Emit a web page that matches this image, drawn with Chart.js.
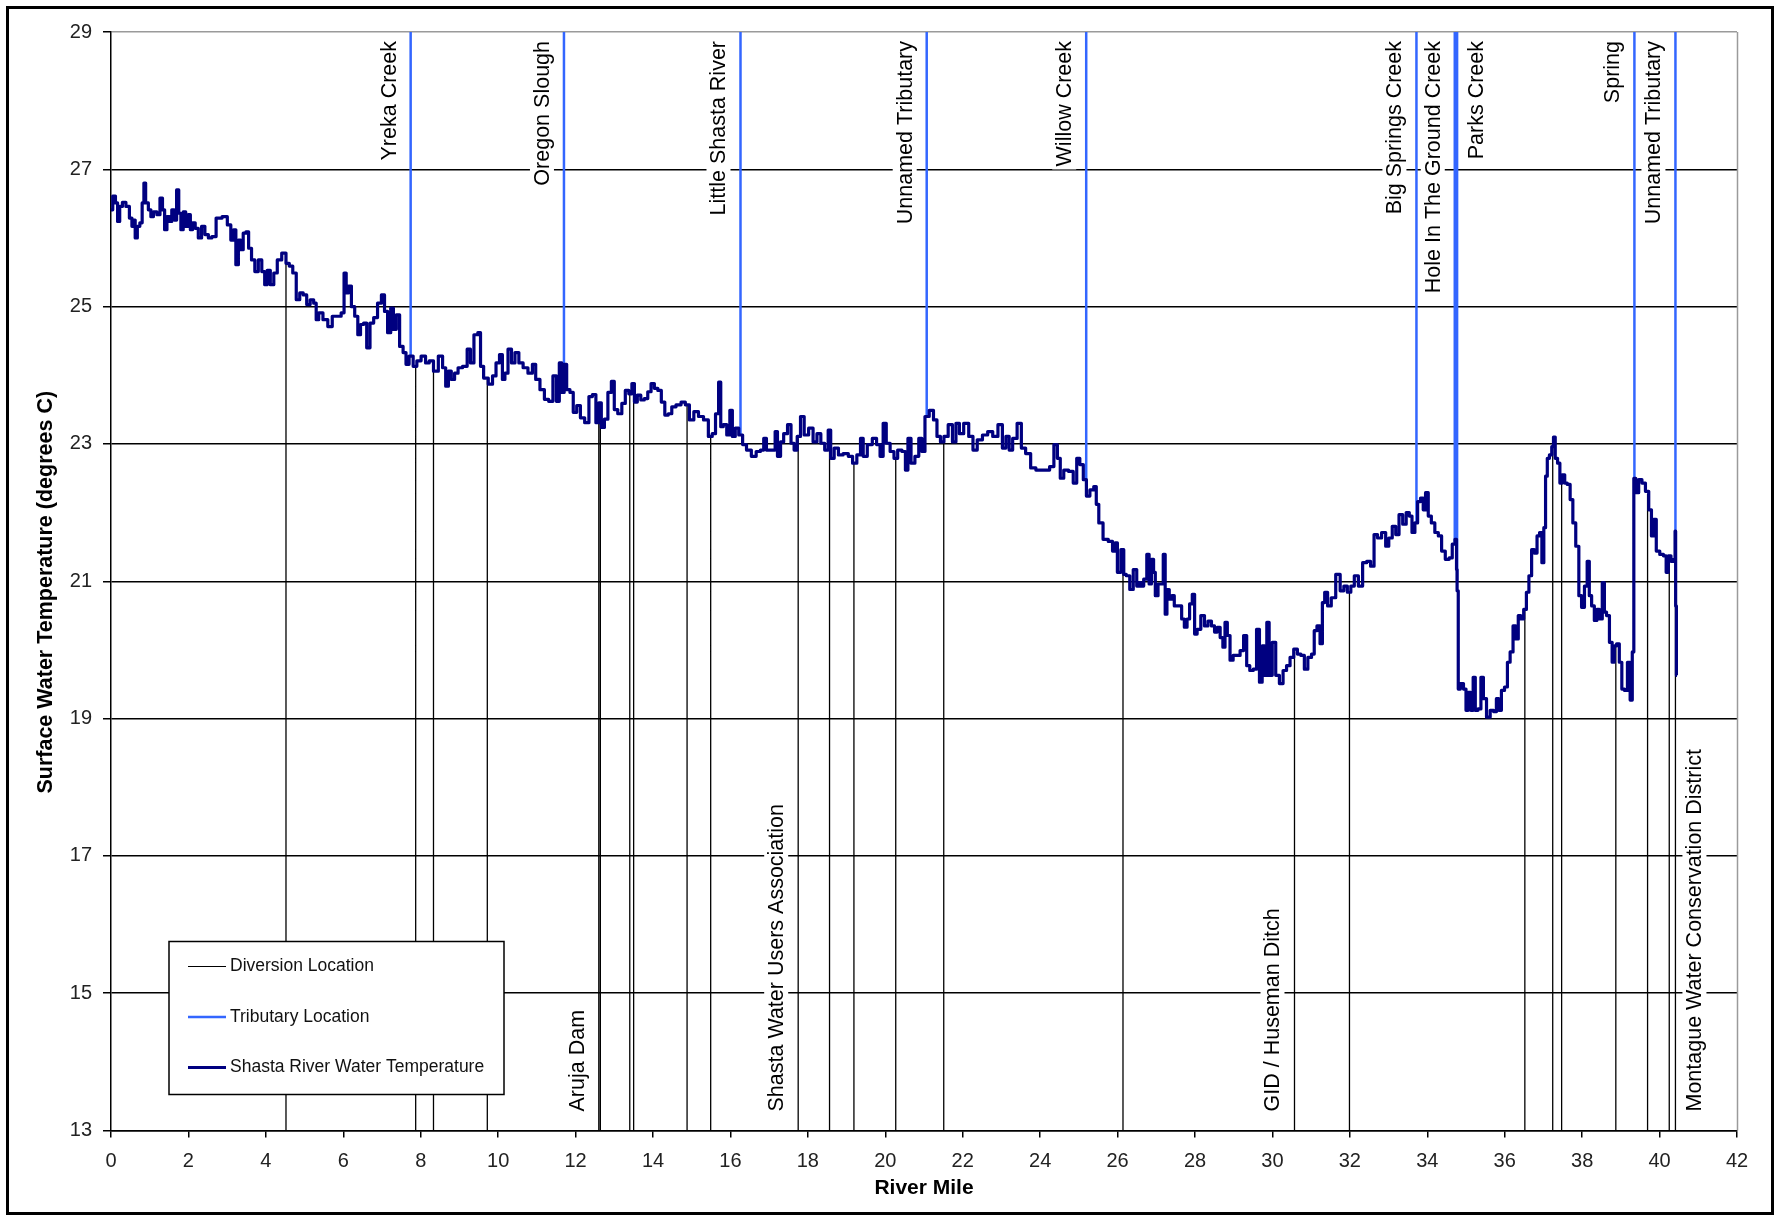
<!DOCTYPE html>
<html lang="en">
<head>
<meta charset="UTF-8">
<title>Shasta River Water Temperature</title>
<script src="https://cdn.jsdelivr.net/npm/chart.js"></script>
<style>
    html, body { margin: 0; padding: 0; background: #fff; }
    canvas { display: block; }
</style>
</head>
<body>
<canvas id="tempChart" width="1774" height="1215"></canvas>
<script>
// river mile / surface water temperature
const riverMile = [
    0.00,0.09,0.14,0.20,0.25,0.34,0.43,0.52,0.56,0.60,
    0.65,0.71,0.78,0.83,0.87,0.92,1.01,1.05,1.14,1.23,
    1.30,1.36,1.41,1.48,1.54,1.60,1.67,1.72,1.78,1.83,
    1.90,1.96,2.03,2.07,2.14,2.21,2.30,2.38,2.47,2.56,
    2.65,2.78,2.96,3.05,3.14,3.19,3.26,3.32,3.38,3.45,
    3.52,3.59,3.67,3.76,3.85,3.94,4.00,4.07,4.16,4.25,
    4.34,4.48,4.56,4.65,4.74,4.83,4.92,5.01,5.10,5.19,
    5.28,5.32,5.41,5.54,5.66,5.77,5.90,5.99,6.05,6.10,
    6.17,6.25,6.34,6.41,6.48,6.57,6.64,6.74,6.83,6.94,
    7.03,7.10,7.19,7.26,7.33,7.41,7.50,7.59,7.65,7.75,
    7.86,7.94,8.08,8.17,8.27,8.39,8.52,8.61,8.68,8.75,
    8.83,8.92,9.01,9.15,9.25,9.32,9.43,9.52,9.57,9.68,
    9.81,9.90,9.99,10.08,10.14,10.21,10.30,10.39,10.48,10.59,
    10.70,10.84,10.93,11.01,11.15,11.24,11.37,11.46,11.55,11.61,
    11.68,11.73,11.81,11.90,11.98,12.08,12.17,12.30,12.39,12.48,
    12.57,12.63,12.70,12.79,12.88,12.97,13.03,
    13.15,13.24,13.33,13.42,13.49,13.55,13.64,13.73,13.82,13.91,
    13.99,14.08,14.17,14.26,14.35,14.44,14.53,14.66,14.79,14.88,
    15.00,15.11,15.24,15.37,15.49,15.57,15.66,15.73,15.77,15.86,
    15.95,16.02,16.08,16.17,16.26,16.37,16.46,16.62,16.71,16.84,
    16.88,16.98,17.14,17.17,17.26,17.33,17.42,17.53,17.60,17.69,
    17.76,17.86,17.95,18.09,18.18,18.29,18.38,18.49,18.56,18.62,
    18.74,18.84,18.98,19.11,19.20,19.33,19.39,19.47,19.60,19.73,
    19.82,19.91,19.98,20.07,20.18,20.27,20.37,20.49,20.55,20.62,
    20.71,20.82,20.91,20.98,21.07,21.20,21.29,21.38,21.47,21.56,
    21.69,21.78,21.87,21.96,22.09,22.22,22.31,22.44,22.58,22.71,
    22.84,22.98,23.07,23.16,23.24,23.34,23.47,23.56,23.69,23.82,
    23.96,24.18,24.31,24.40,24.49,24.55,24.67,24.80,24.91,24.98,
    25.07,25.16,25.23,25.34,25.43,25.47,25.56,25.69,25.83,25.91,
    25.96,26.03,26.14,26.18,26.27,26.36,26.45,26.54,
    26.58,26.63,26.72,26.79,26.84,26.91,26.95,27.00,27.09,27.15,
    27.21,27.25,27.30,27.37,27.43,27.50,27.62,27.69,27.76,27.83,
    27.89,27.97,28.01,28.10,28.20,28.29,28.38,28.47,28.54,28.61,
    28.69,28.75,28.80,28.87,28.94,29.03,29.12,29.21,29.30,29.37,
    29.46,29.55,29.63,29.70,29.77,29.83,29.88,29.95,30.04,30.13,
    30.23,30.32,30.41,30.50,30.60,30.69,30.78,30.87,30.96,31.06,
    31.10,31.20,31.26,31.32,31.38,31.47,31.57,31.70,31.80,31.89,
    31.98,32.07,32.16,32.28,32.38,32.49,32.58,32.67,32.76,32.88,
    32.97,33.04,33.15,33.22,33.32,33.41,33.50,33.57,33.64,33.72,
    33.78,33.87,33.92,33.99,34.06,34.15,34.24,34.33,34.41,34.52,
    34.61,34.68,34.75,34.76,34.78,34.82,34.89,34.98,35.02,35.09,
    35.16,35.21,35.27,35.35,35.42,35.48,35.58,35.67,35.76,35.81,
    35.88,35.95,36.04,36.10,36.18,36.25,36.32,36.38,36.45,36.53,
    36.59,36.66,36.73,36.80,36.87,36.93,36.99,37.03,37.08,37.12,
    37.19,37.24,37.28,37.33,37.40,37.45,37.52,37.58,37.65,37.73,
    37.79,37.88,37.95,38.02,38.10,38.16,38.21,38.28,38.35,38.41,
    38.48,38.56,38.59,38.67,38.74,38.81,38.85,38.93,38.99,39.06,
    39.13,39.21,39.27,39.32,39.35,39.42,39.50,39.59,39.68,39.76,
    39.82,39.87,39.96,40.05,40.15,40.19,40.26,40.33,40.39,40.41,
    40.42,40.45
];
const waterTemp = [
    26.41,26.61,26.51,26.24,26.46,26.52,26.46,26.29,26.17,26.26,
    26.00,26.17,26.22,26.51,26.80,26.51,26.41,26.31,26.38,26.34,
    26.58,26.41,26.12,26.31,26.24,26.41,26.26,26.70,26.36,26.12,
    26.38,26.17,26.34,26.12,26.22,26.14,26.00,26.17,26.05,26.00,
    26.02,26.29,26.31,26.19,25.97,26.12,25.61,25.97,25.83,26.07,
    26.09,25.85,25.68,25.51,25.68,25.51,25.32,25.53,25.32,25.49,
    25.68,25.78,25.63,25.59,25.49,25.10,25.20,25.17,25.03,25.10,
    25.05,24.81,24.91,24.81,24.71,24.86,24.86,24.91,25.49,25.20,
    25.30,25.00,24.86,24.59,24.74,24.76,24.40,24.76,24.84,25.05,
    25.17,24.93,24.62,24.98,24.67,24.88,24.42,24.33,24.16,24.28,
    24.13,24.21,24.28,24.18,24.21,24.06,24.28,24.11,23.84,24.06,
    23.94,24.03,24.11,24.13,24.38,24.18,24.59,24.62,24.13,23.96,
    23.87,23.99,24.18,24.30,23.94,24.03,24.38,24.18,24.33,24.18,
    24.11,24.03,24.16,23.94,23.79,23.65,23.62,23.99,23.62,24.18,
    23.75,24.16,23.79,23.75,23.46,23.56,23.38,23.31,23.69,23.72,
    23.31,23.60,23.24,23.36,23.75,23.91,23.50,
    23.44,23.59,23.78,23.73,23.88,23.61,23.71,23.64,23.66,23.76,
    23.88,23.81,23.78,23.61,23.42,23.44,23.54,23.57,23.61,23.57,
    23.35,23.47,23.40,23.35,23.11,23.15,23.44,23.90,23.25,23.28,
    23.13,23.49,23.11,23.23,23.13,22.99,22.91,22.82,22.89,22.91,
    23.08,22.91,22.91,23.18,22.82,23.03,23.15,23.28,23.01,22.91,
    23.11,23.40,23.13,23.23,23.03,23.15,23.01,22.91,23.20,22.79,
    22.94,22.84,22.86,22.82,22.72,22.84,23.08,22.82,22.99,23.08,
    22.99,22.82,23.30,23.01,22.89,22.79,22.91,22.89,22.62,23.08,
    22.72,22.82,23.08,22.89,23.40,23.49,23.35,23.11,23.03,23.11,
    23.28,23.03,23.30,23.15,23.30,23.11,22.91,23.06,23.13,23.18,
    23.11,23.28,22.94,23.11,22.91,23.08,23.30,22.94,22.86,22.65,
    22.62,22.62,22.67,22.99,22.79,22.50,22.62,22.60,22.43,22.79,
    22.70,22.48,22.24,22.33,22.38,22.12,21.85,21.61,21.58,21.44,
    21.56,21.13,21.46,21.10,21.08,20.88,21.17,20.93,
    20.98,20.93,21.03,21.39,20.96,21.32,21.13,20.79,20.96,20.96,
    21.39,20.52,20.88,20.74,20.79,20.64,20.64,20.45,20.33,20.45,
    20.67,20.81,20.23,20.30,20.50,20.35,20.42,20.35,20.26,20.33,
    20.18,20.04,20.40,20.21,19.85,19.92,19.92,19.99,20.21,19.77,
    19.70,19.72,20.30,19.53,20.06,19.63,20.40,19.63,20.11,19.63,
    19.51,19.70,19.77,19.89,20.01,19.94,19.92,19.72,19.89,19.94,
    20.28,20.35,20.09,20.69,20.84,20.64,20.76,21.10,20.86,20.93,
    20.84,20.93,21.08,20.93,21.27,21.29,21.22,21.68,21.63,21.71,
    21.51,21.63,21.80,21.68,21.97,21.83,22.00,21.95,21.71,21.85,
    22.16,22.21,22.04,22.29,21.95,21.85,21.71,21.66,21.44,21.32,
    21.34,21.54,21.61,21.17,20.86,19.43,19.51,19.43,19.12,19.38,
    19.12,19.60,19.12,19.14,19.60,19.29,19.02,19.12,19.10,19.29,
    19.12,19.41,19.46,19.82,19.97,20.35,20.16,20.50,20.45,20.59,
    20.84,21.08,21.46,21.41,21.66,21.71,21.27,21.78,22.53,22.79,
    22.84,22.96,23.10,22.79,22.72,22.43,22.55,22.43,22.41,22.19,
    21.85,21.51,20.79,20.62,20.93,21.29,20.79,20.64,20.43,20.59,
    20.45,20.98,20.55,20.50,20.11,19.82,20.06,20.09,19.82,19.43,
    19.41,19.82,19.27,19.97,22.50,22.29,22.48,22.43,22.31,22.04,
    21.66,21.90,21.44,21.39,21.37,21.13,21.37,21.29,21.32,21.73,
    20.64,19.63
];

const tributaryNames = ['Yreka Creek', 'Oregon Slough', 'Little Shasta River', 'Unnamed Tributary', 'Willow Creek',
    'Big Springs Creek', 'Hole In The Ground Creek', 'Parks Creek', 'Spring', 'Unnamed Tributary'];
const tributaryMiles = [7.74, 11.70, 16.26, 21.07, 25.19, 33.72, 34.71, 34.77, 39.35, 40.41];

const diversionMiles = [4.52, 7.87, 8.33, 9.72, 12.60, 12.64, 13.40, 13.50, 14.88, 15.49, 17.75, 18.56, 19.19,
    20.27, 21.51, 26.14, 30.57, 31.99, 36.52, 37.24, 37.47, 38.87, 39.69, 40.25, 40.41];
const diversionLabelNames = ['Aruja Dam', 'Shasta Water Users Association', 'GID / Huseman Ditch',
    'Montague Water Conservation District'];
const diversionLabelMiles = [12.62, 17.75, 30.57, 40.41];

const legendLabels = ['Diversion Location', 'Tributary Location', 'Shasta River Water Temperature'];
const yTitle = 'Surface Water Temperature (degrees C)';

const xMin = 0, xMax = 42, xStep = 2;
const yMin = 13, yMax = 29, yStep = 2;

const FONT = 'Arial, "Liberation Sans", sans-serif';
const NAVY = '#000080';
const BLUE = '#3366FF';
const rightSideLabels = ['Parks Creek', 'Montague Water Conservation District'];

// temperature on the curve at a given mile (lines stop where they meet it)
function tempAt(m) {
    for (let i = 0; i < riverMile.length - 1; i++) {
        if (m >= riverMile[i] && m <= riverMile[i + 1]) {
            const t = (m - riverMile[i]) / (riverMile[i + 1] - riverMile[i]);
            return waterTemp[i] + t * (waterTemp[i + 1] - waterTemp[i]);
        }
    }
    return waterTemp[waterTemp.length - 1];
}

const tempPoints = riverMile.map((m, i) => ({ x: m, y: waterTemp[i] }));

const tributaryPoints = [];
tributaryMiles.forEach(m => {
    tributaryPoints.push({ x: m, y: yMax }, { x: m, y: tempAt(m) }, { x: m, y: null });
});

const diversionPoints = [];
diversionMiles.forEach(m => {
    diversionPoints.push({ x: m, y: tempAt(m) }, { x: m, y: yMin }, { x: m, y: null });
});

const framePlugin = {
    id: 'frame',
    beforeDraw(chart) {
        const { ctx, width, height } = chart;
        ctx.save();
        ctx.fillStyle = '#fff';
        ctx.fillRect(0, 0, width, height);
        ctx.restore();
    },
    beforeDatasetsDraw(chart) {
        const { ctx, chartArea, scales: { x } } = chart;
        const px = Math.round(x.getPixelForValue(xMax)) + 0.5;
        ctx.save();
        ctx.strokeStyle = '#9a9a9a';
        ctx.lineWidth = 1.5;
        ctx.beginPath();
        ctx.moveTo(px, chartArea.top);
        ctx.lineTo(px, chartArea.bottom);
        ctx.stroke();
        ctx.restore();
    },
    afterDraw(chart) {
        const { ctx, width, height, chartArea } = chart;
        ctx.save();
        // y axis title, sits a little below the plot centre as in the original
        ctx.font = 'bold 21.5px ' + FONT;
        ctx.fillStyle = '#000';
        ctx.textAlign = 'center';
        ctx.textBaseline = 'middle';
        ctx.translate(46, (chartArea.top + chartArea.bottom) / 2 + 11);
        ctx.rotate(-Math.PI / 2);
        ctx.fillText(yTitle, 0, 0);
        ctx.restore();

        ctx.save();
        ctx.strokeStyle = '#000';
        ctx.lineWidth = 3;
        ctx.strokeRect(7.5, 7.5, width - 9, height - 9);
        ctx.restore();
    }
};

const siteLabelPlugin = {
    id: 'siteLabels',
    afterDatasetsDraw(chart) {
        const { ctx, chartArea, scales: { x } } = chart;
        ctx.save();
        ctx.font = '21.5px ' + FONT;
        ctx.textBaseline = 'middle';

        const drawLabel = (text, mile, anchorY, fromTop) => {
            const right = rightSideLabels.includes(text);
            const px = x.getPixelForValue(mile) + (right ? 19 : -22);
            const w = ctx.measureText(text).width;
            ctx.save();
            ctx.translate(px, anchorY);
            ctx.rotate(-Math.PI / 2);
            ctx.textAlign = fromTop ? 'right' : 'left';
            ctx.fillStyle = '#fff';
            ctx.fillRect(fromTop ? -w - 3 : -3, -12, w + 6, 24);
            ctx.fillStyle = '#000';
            ctx.fillText(text, 0, 1);
            ctx.restore();
        };

        tributaryNames.forEach((name, i) => drawLabel(name, tributaryMiles[i], chartArea.top + 9, true));
        diversionLabelNames.forEach((name, i) => drawLabel(name, diversionLabelMiles[i], chartArea.bottom - 19, false));
        ctx.restore();
    }
};

const legendPlugin = {
    id: 'boxLegend',
    afterDraw(chart) {
        const { ctx, chartArea } = chart;
        const left = chartArea.left + 58;
        const top = chartArea.bottom - 189;
        const styles = [
            { color: '#000', width: 1.2 },
            { color: BLUE, width: 2.5 },
            { color: NAVY, width: 3 }
        ];
        ctx.save();
        ctx.fillStyle = '#fff';
        ctx.fillRect(left, top, 335, 153);
        ctx.strokeStyle = '#000';
        ctx.lineWidth = 1.5;
        ctx.strokeRect(left, top, 335, 153);
        ctx.font = '17.5px ' + FONT;
        ctx.textBaseline = 'middle';
        ctx.textAlign = 'left';
        legendLabels.forEach((label, i) => {
            const y = top + 25 + i * 50.5;
            ctx.strokeStyle = styles[i].color;
            ctx.lineWidth = styles[i].width;
            ctx.beginPath();
            ctx.moveTo(left + 19, y);
            ctx.lineTo(left + 57, y);
            ctx.stroke();
            ctx.fillStyle = '#111';
            ctx.fillText(label, left + 61, y);
        });
        ctx.restore();
    }
};

new Chart(document.getElementById('tempChart'), {
    type: 'line',
    data: {
        datasets: [{
            label: 'Shasta River Water Temperature',
            data: tempPoints,
            borderColor: NAVY,
            borderWidth: 3.2,
            borderJoinStyle: 'round',
            stepped: 'middle',
            pointRadius: 0,
            order: 0
        }, {
            label: 'Tributary Location',
            data: tributaryPoints,
            borderColor: BLUE,
            borderWidth: 2.5,
            pointRadius: 0,
            spanGaps: false,
            order: 1
        }, {
            label: 'Diversion Location',
            data: diversionPoints,
            borderColor: '#000',
            borderWidth: 1.3,
            pointRadius: 0,
            spanGaps: false,
            order: 2
        }]
    },
    options: {
        responsive: false,
        animation: false,
        layout: { padding: { left: 10, top: 32, right: 37, bottom: 10 } },
        plugins: {
            legend: { display: false },
            tooltip: { enabled: false }
        },
        scales: {
            x: {
                type: 'linear',
                min: xMin,
                max: xMax,
                ticks: {
                    stepSize: xStep,
                    color: '#222',
                    padding: 12,
                    maxRotation: 0,
                    font: { family: FONT, size: 20 }
                },
                grid: { drawOnChartArea: false, drawTicks: true, tickLength: 7, tickColor: '#000', lineWidth: 1.5 },
                border: { display: true, color: '#000', width: 1.5 },
                title: {
                    display: true,
                    text: 'River Mile',
                    color: '#000',
                    padding: { top: 0, bottom: 4 },
                    font: { family: FONT, size: 21, weight: 'bold' }
                },
                afterFit(scale) { scale.height = 74.5; }
            },
            y: {
                type: 'linear',
                min: yMin,
                max: yMax,
                ticks: {
                    stepSize: yStep,
                    color: '#222',
                    padding: 11,
                    font: { family: FONT, size: 20 }
                },
                grid: {
                    color: c => (c.tick && c.tick.value === yMax ? '#9a9a9a' : '#000'),
                    lineWidth: 1.5,
                    tickLength: 8,
                    tickColor: '#000'
                },
                border: { display: true, color: '#000', width: 1.5 },
                title: { display: false },
                afterFit(scale) { scale.width = 101; }
            }
        }
    },
    plugins: [framePlugin, siteLabelPlugin, legendPlugin]
});
</script>
</body>
</html>
